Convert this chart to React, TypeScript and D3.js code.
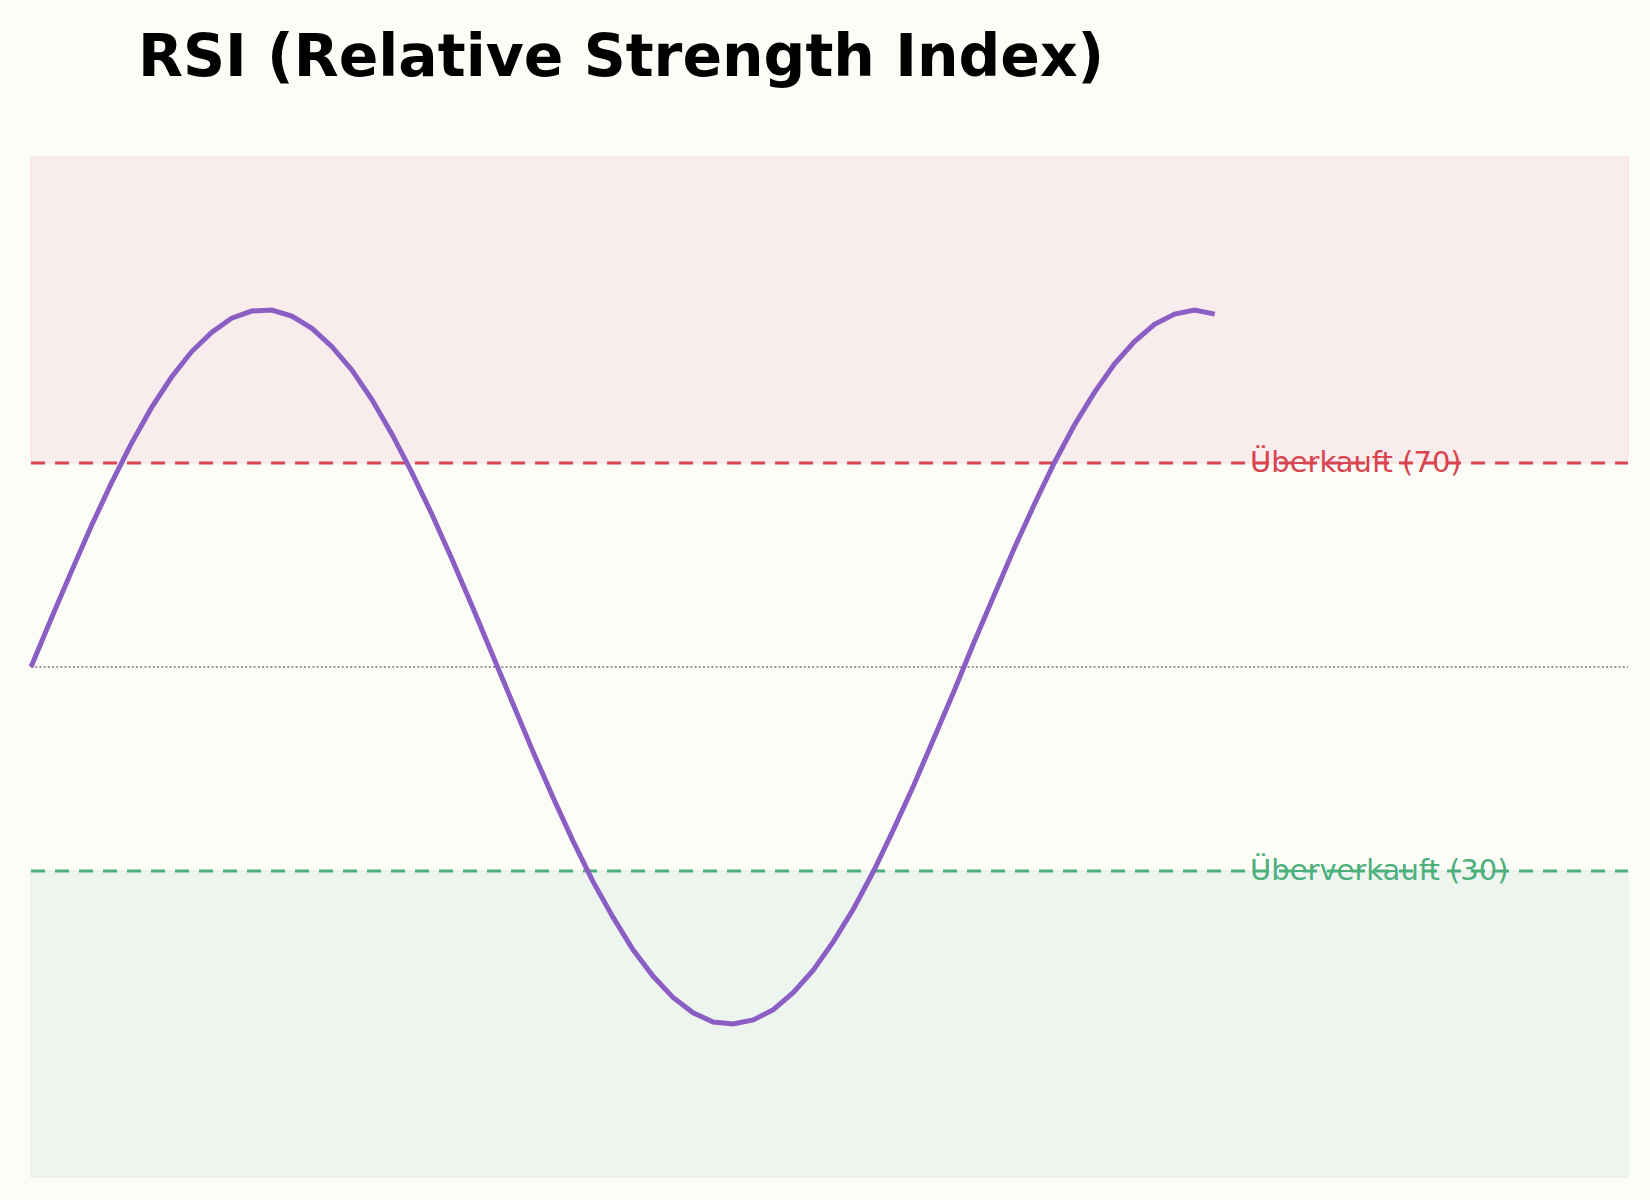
import React from "react";
import * as d3 from "d3";

const rsiValues: number[] = [
  50.0, 54.7, 59.3, 63.8, 68.0, 71.9, 75.4, 78.4, 80.9, 82.8,
  84.2, 84.9, 85.0, 84.4, 83.2, 81.4, 79.1, 76.2, 72.8, 69.0,
  64.9, 60.5, 55.9, 51.2, 46.5, 41.8, 37.3, 33.0, 29.0, 25.5,
  22.3, 19.7, 17.6, 16.1, 15.2, 15.0, 15.4, 16.4, 18.1, 20.3,
  23.1, 26.3, 30.0, 34.1, 38.4, 43.0, 47.6, 52.4, 57.0, 61.6,
  65.9, 70.0, 73.7, 76.9, 79.7, 81.9, 83.6, 84.6, 85.0, 84.6,
];

const overbought = 70;
const oversold = 30;
const midline = 50;
const titleText = "RSI (Relative Strength Index)";
const overboughtLabel = "Überkauft (70)";
const oversoldLabel = "Überverkauft (30)";

const W = 1650;
const H = 1200;
const left = 31;
const right = 1628;
const top = 157;
const bottom = 1177;

export default function App() {
  const x = d3.scaleLinear().domain([0, 79.6]).range([left, right]);
  const y = d3.scaleLinear().domain([0, 100]).range([bottom, top]);
  const line = d3
    .line<number>()
    .x((_, i) => x(i))
    .y((d) => y(d));

  const red = "#d8444f";
  const green = "#4caf7c";
  const purple = "#8b5ec4";
  const labelX = 1250;

  return (
    <div style={{ position: "absolute", left: 0, top: 0, width: W, height: H }}>
      <svg width={W} height={H} style={{ display: "block" }}>
        <rect x={0} y={0} width={W} height={H} fill="#fdfdf8" />
        <text
          x={138}
          y={76}
          fontFamily="DejaVu Sans"
          fontWeight="bold"
          fontSize={58.4}
          fill="#000"
        >
          {titleText}
        </text>
        {/* overbought zone */}
        <rect
          x={x(0)}
          y={y(100)}
          width={right - left}
          height={y(overbought) - y(100)}
          fill="#f9ecec"
          stroke="#f6dede"
          strokeWidth={1}
        />
        {/* oversold zone */}
        <rect
          x={x(0)}
          y={y(oversold)}
          width={right - left}
          height={y(0) - y(oversold)}
          fill="#eef5ef"
          stroke="#e1eee5"
          strokeWidth={1}
        />
        {/* midline */}
        <line
          x1={left}
          x2={right}
          y1={y(midline)}
          y2={y(midline)}
          stroke="#999"
          strokeWidth={2}
          strokeDasharray="2,2.2"
        />
        <line
          x1={left}
          x2={right}
          y1={y(overbought)}
          y2={y(overbought)}
          stroke={red}
          strokeWidth={3}
          strokeDasharray="14,10"
        />
        <line
          x1={left}
          x2={right}
          y1={y(oversold)}
          y2={y(oversold)}
          stroke={green}
          strokeWidth={3}
          strokeDasharray="14,10"
        />
        <path
          d={line(rsiValues) || ""}
          fill="none"
          stroke={purple}
          strokeWidth={5}
          strokeLinejoin="miter"
        />
        <text
          x={labelX}
          y={y(overbought)}
          dy="0.31em"
          fontFamily="DejaVu Sans"
          fontSize={29}
          fill={red}
        >
          {overboughtLabel}
        </text>
        <text
          x={labelX}
          y={y(oversold)}
          dy="0.31em"
          fontFamily="DejaVu Sans"
          fontSize={29}
          fill={green}
        >
          {oversoldLabel}
        </text>
      </svg>
    </div>
  );
}
